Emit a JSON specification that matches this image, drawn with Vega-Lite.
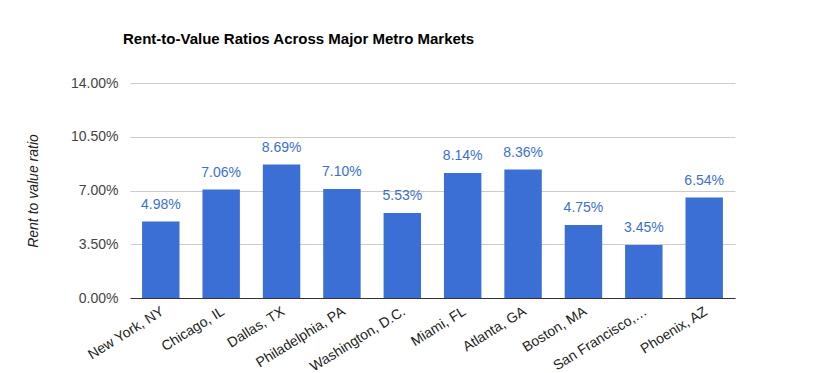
{
  "$schema": "https://vega.github.io/schema/vega-lite/v6.json",
  "autosize": "none",
  "width": 605,
  "height": 215,
  "padding": {"left": 130, "top": 83, "right": 91, "bottom": 75},
  "background": "white",
  "title": {
    "text": "Rent-to-Value Ratios Across Major Metro Markets",
    "anchor": "start",
    "frame": "group",
    "dx": -7,
    "offset": 29,
    "font": "Liberation Sans",
    "fontSize": 15,
    "fontWeight": "bold",
    "color": "#000000"
  },
  "config": {"view": {"stroke": null}},
  "data": {
    "values": [
      {"market": "New York, NY", "ratio": 0.0498},
      {"market": "Chicago, IL", "ratio": 0.0706},
      {"market": "Dallas, TX", "ratio": 0.0869},
      {"market": "Philadelphia, PA", "ratio": 0.0710},
      {"market": "Washington, D.C.", "ratio": 0.0553},
      {"market": "Miami, FL", "ratio": 0.0814},
      {"market": "Atlanta, GA", "ratio": 0.0836},
      {"market": "Boston, MA", "ratio": 0.0475},
      {"market": "San Francisco, CA", "ratio": 0.0345},
      {"market": "Phoenix, AZ", "ratio": 0.0654}
    ]
  },
  "encoding": {
    "x": {
      "field": "market",
      "type": "nominal",
      "sort": null,
      "scale": {"paddingInner": 0.38, "paddingOuter": 0.2},
      "axis": {
        "title": null,
        "labelAngle": -32,
        "labelAlign": "right",
        "labelBaseline": "middle",
        "labelFont": "Liberation Sans",
        "labelFontSize": 14,
        "labelColor": "#222222",
        "labelPadding": 12,
        "labelOffset": 2,
        "labelExpr": "datum.value == 'San Francisco, CA' ? 'San Francisco,…' : datum.value",
        "ticks": false,
        "domainColor": "#333333",
        "grid": false
      }
    },
    "y": {
      "field": "ratio",
      "type": "quantitative",
      "scale": {"domain": [0, 0.14], "nice": false},
      "axis": {
        "title": "Rent to value ratio",
        "titleFont": "Liberation Sans",
        "titleFontSize": 14,
        "titleFontStyle": "italic",
        "titleFontWeight": "normal",
        "titleColor": "#222222",
        "titlePadding": 30,
        "values": [0, 0.035, 0.07, 0.105, 0.14],
        "format": ".2%",
        "labelFont": "Liberation Sans",
        "labelFontSize": 14,
        "labelColor": "#444444",
        "labelPadding": 12,
        "ticks": false,
        "domain": false,
        "gridColor": "#cccccc"
      }
    }
  },
  "layer": [
    {"mark": {"type": "bar", "color": "#3b6fd5"}},
    {
      "mark": {"type": "text", "dy": -17, "font": "Liberation Sans", "fontSize": 14, "color": "#3b6fd0"},
      "encoding": {"text": {"field": "ratio", "type": "quantitative", "format": ".2%"}}
    }
  ]
}
